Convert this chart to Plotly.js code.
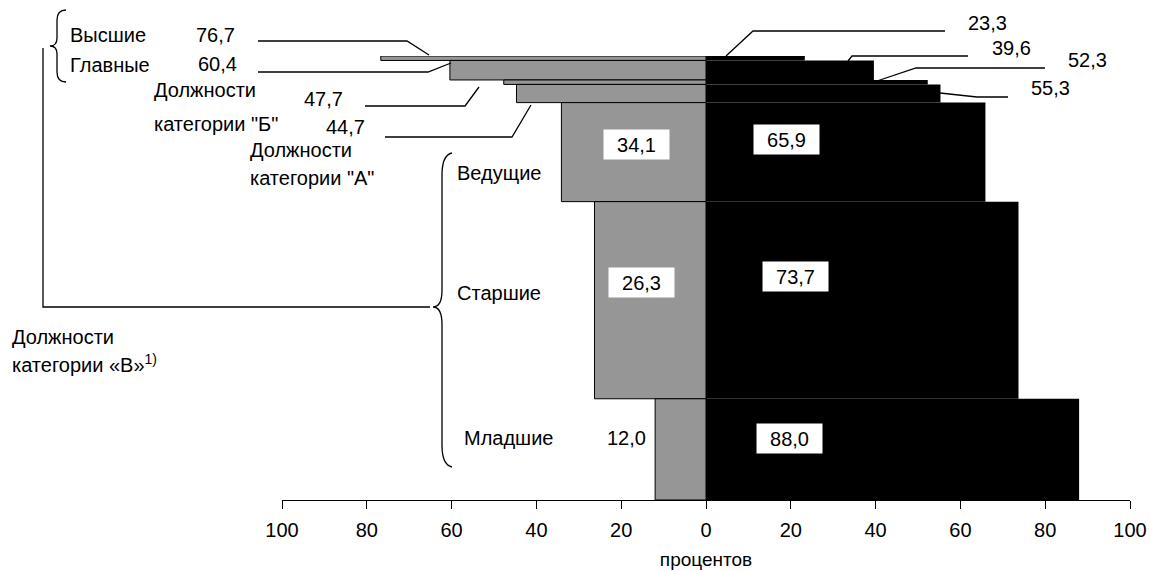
<!DOCTYPE html>
<html><head><meta charset="utf-8">
<script src="https://cdn.plot.ly/plotly-3.0.1.min.js"></script>
<style>body{margin:0;background:#fff}#chart{width:1150px;height:571px}</style>
</head><body><div id="chart"></div>
<script>
// ---- data ----
const categories = ['Высшие', 'Главные', 'Должности<br>категории "Б"', 'Должности<br>категории "А"', 'Ведущие', 'Старшие', 'Младшие'];
const grayValues = [76.7, 60.4, 47.7, 44.7, 34.1, 26.3, 12.0];
const blackValues = [23.3, 39.6, 52.3, 55.3, 65.9, 73.7, 88.0];
const groupShares = [1.0, 4.4, 1.0, 4.1, 22.3, 44.4, 22.8];
const tickVals = [-100, -80, -60, -40, -20, 0, 20, 40, 60, 80, 100];
const tickLabels = ['100', '80', '60', '40', '20', '0', '20', '40', '60', '80', '100'];
const groupLabel = ['Должности', 'категории «В»<sup>1)</sup>'];
const axisTitle = 'процентов';

// ---- derived ----
let acc = 0;
const centers = groupShares.map(s => { const c = acc + s / 2; acc += s; return c; });
const fmt = v => v.toFixed(1).replace('.', ',');

const L = 282, T = 56, W = 848, H = 444;
const px = x => (x - L) / W;
const py = y => 1 - (y - T) / H;
const FONT = 'Arial, "Liberation Sans", sans-serif';
const FS = 20;

function txt(text, x, y, anchor, extra) {
  return Object.assign({
    text: text, xref: 'paper', yref: 'paper', x: px(x), y: py(y),
    xanchor: anchor || 'left', yanchor: 'middle', showarrow: false,
    font: {family: FONT, size: FS, color: '#000'}
  }, extra || {});
}
function box(text, x, y) {
  return txt(text, x, y, 'center', {bgcolor: '#fff', borderpad: 4, width: 57, height: 21});
}
function pathOf(pts) {
  return pts.map((p, i) => (i ? 'L' : 'M') + px(p[0]) + ',' + py(p[1])).join(' ');
}
function line(pts) {
  return {type: 'path', xref: 'paper', yref: 'paper', path: pathOf(pts), line: {color: '#000', width: 1.3}};
}
function rawPath(cmds) {
  const s = cmds.map(c => c[0] + c.slice(1).map(p => px(p[0]) + ',' + py(p[1])).join(' ')).join(' ');
  return {type: 'path', xref: 'paper', yref: 'paper', path: s, line: {color: '#000', width: 1.3}};
}

const splitB = categories[2].split('<br>');
const splitA = categories[3].split('<br>');

const annotations = [
  txt(categories[0], 68, 35), txt(fmt(grayValues[0]), 215, 35, 'center'),
  txt(categories[1], 68, 65), txt(fmt(grayValues[1]), 217, 64, 'center'),
  txt(splitB[0], 152, 90), txt(splitB[1], 152, 124), txt(fmt(grayValues[2]), 323, 99, 'center'),
  txt(fmt(grayValues[3]), 345, 127, 'center'),
  txt(splitA[0], 248, 150), txt(splitA[1], 248, 178),
  txt(categories[4], 455, 173), txt(categories[5], 455, 293), txt(categories[6], 462, 438),
  txt(fmt(grayValues[6]), 626, 438, 'center'),
  txt(groupLabel[0], 10, 337), txt(groupLabel[1], 10, 363),
  box(fmt(grayValues[4]), 636, 144), box(fmt(blackValues[4]), 786, 139),
  box(fmt(grayValues[5]), 641, 282), box(fmt(blackValues[5]), 795, 276),
  box(fmt(blackValues[6]), 789, 438),
  txt(fmt(blackValues[0]), 966, 23), txt(fmt(blackValues[1]), 990, 48),
  txt(fmt(blackValues[2]), 1066, 60), txt(fmt(blackValues[3]), 1029, 88)
];

const shapes = [
  line([[258, 41], [407, 41], [429, 55]]),
  line([[258, 72], [428, 72], [451, 63]]),
  line([[365, 106], [465, 106], [479, 87]]),
  line([[385, 137], [512, 137], [531, 105]]),
  line([[726, 56], [753, 31], [945, 31]]),
  line([[848, 61], [852, 56], [968, 56]]),
  line([[877, 81], [916, 68], [1045, 68]]),
  line([[940, 93], [977, 97], [1008, 97]]),
  line([[43, 48], [43, 307], [430, 307]]),
  rawPath([['M', [66, 10]], ['Q', [57, 10], [57, 20]], ['L', [57, 38]], ['Q', [57, 46], [50, 46]],
           ['Q', [57, 46], [57, 54]], ['L', [57, 72]], ['Q', [57, 82], [66, 82]]]),
  rawPath([['M', [452, 153]], ['Q', [442, 155], [442, 175]], ['L', [442, 290]], ['Q', [442, 307], [433, 307]],
           ['Q', [442, 307], [442, 325]], ['L', [442, 445]], ['Q', [442, 465], [452, 467]]])
];

const traces = [
  {type: 'bar', orientation: 'h', y: centers, x: grayValues.map(v => -v), width: groupShares, base: 0,
   marker: {color: '#969696', line: {color: '#000', width: 1}}, hoverinfo: 'skip'},
  {type: 'bar', orientation: 'h', y: centers, x: blackValues, width: groupShares, base: 0,
   marker: {color: '#000', line: {color: '#000', width: 0}}, hoverinfo: 'skip'}
];

const layout = {
  width: 1150, height: 571, showlegend: false, barmode: 'overlay',
  paper_bgcolor: '#fff', plot_bgcolor: '#fff',
  margin: {l: L, r: 1150 - L - W, t: T, b: 571 - T - H},
  font: {family: FONT, size: FS, color: '#000'},
  xaxis: {range: [-100, 100], tickmode: 'array', tickvals: tickVals, ticktext: tickLabels,
          showline: true, linecolor: '#000', linewidth: 1, ticks: 'outside', ticklen: 8, tickcolor: '#000',
          showgrid: false, zeroline: false, fixedrange: true, ticklabelstandoff: 4,
          tickfont: {family: FONT, size: 20, color: '#000'},
          title: {text: axisTitle, font: {family: FONT, size: 19, color: '#000'}, standoff: 12}},
  yaxis: {range: [100, 0], visible: false, fixedrange: true},
  annotations: annotations, shapes: shapes
};

Plotly.newPlot('chart', traces, layout, {staticPlot: true, displayModeBar: false});
</script></body></html>
